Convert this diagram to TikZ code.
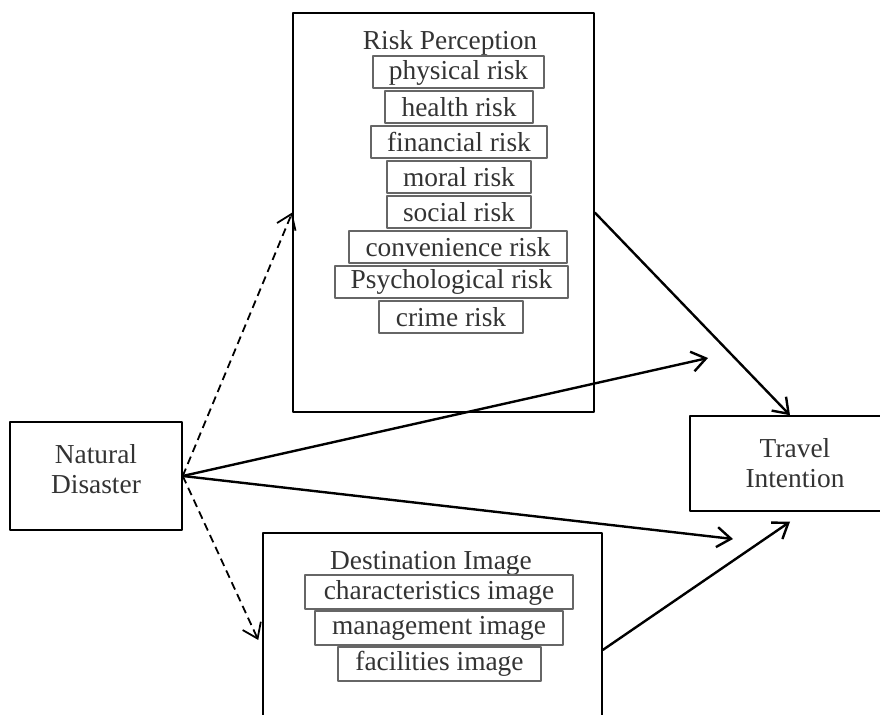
\documentclass[tikz,border=0pt]{standalone}
\usepackage{fontspec}
\setmainfont{Liberation Serif}
\usetikzlibrary{arrows.meta}
\begin{document}
\begin{tikzpicture}[x=0.5pt,y=-0.5pt,line join=round,>={Straight Barb[length=7pt,width=10pt]},
	font=\fontsize{13.7}{15}\selectfont,text=black!80,
	bigbox/.style={draw,line width=0.75pt,inner sep=0pt},
	itembox/.style={draw=black!60,line width=1pt,inner sep=0pt,minimum height=16pt},
	link/.style={->,line width=1.2pt},
	dlink/.style={->,line width=0.9pt,dash pattern=on 4pt off 2.5pt}]
	\useasboundingbox (0,0) rectangle (880,715);
	\clip (0,0) rectangle (880,715);
	\node[bigbox,minimum width=86pt,minimum height=54pt,align=center] (nd) at (96,476) {Natural\\Disaster\\[-8pt]\mbox{}};
	\node[bigbox,minimum width=150.5pt,minimum height=199.5pt] (rp) at (443.5,212.5) {};
	\node[bigbox,minimum width=105pt,minimum height=47.5pt,align=center] (ti) at (795,463.5) {Travel\\Intention};
	\node[bigbox,minimum width=169.5pt,minimum height=117pt] (di) at (432.5,650) {};
	\node[anchor=base,inner sep=0pt] (rptitle) at (450,50) {Risk Perception};
	\node[anchor=base,inner sep=0pt] (dititle) at (431,570) {Destination Image};
	\foreach \cx/\w/\t [count=\i] in {458.5/85.5/physical risk,459/74/health risk,459/88/financial risk,459/72/moral risk,459/72/social risk,458/109/convenience risk,451.5/116.5/Psychological risk,451/72/crime risk}
		\node[itembox,minimum width=\w pt] (r\i) at (\cx,72.5+34.9*\i-34.9) {\t};
	\foreach \cx/\w/\t [count=\i] in {439/134/characteristics image,439/124/management image,439.5/101.5/facilities image}
		\node[itembox,minimum width=\w pt,minimum height=17pt] (d\i) at (\cx,592.5+35.8*\i-35.8) {\t};
	\coordinate (up) at (708,358);
	\coordinate (dn) at (733,539);
	\draw[dlink] (nd.east) -- (rp.west);
	\draw[dlink] (nd.east) -- ([yshift=5pt,xshift=-2pt]di.west);
	\draw[link] (nd.east) -- (up);
	\draw[link] (nd.east) -- (dn);
	\draw[link] (rp.east) -- ([xshift=-2.5pt]ti.north);
	\draw[link] (di.east) -- ([xshift=-2.5pt,yshift=-5pt]ti.south);
\end{tikzpicture}
\end{document}
